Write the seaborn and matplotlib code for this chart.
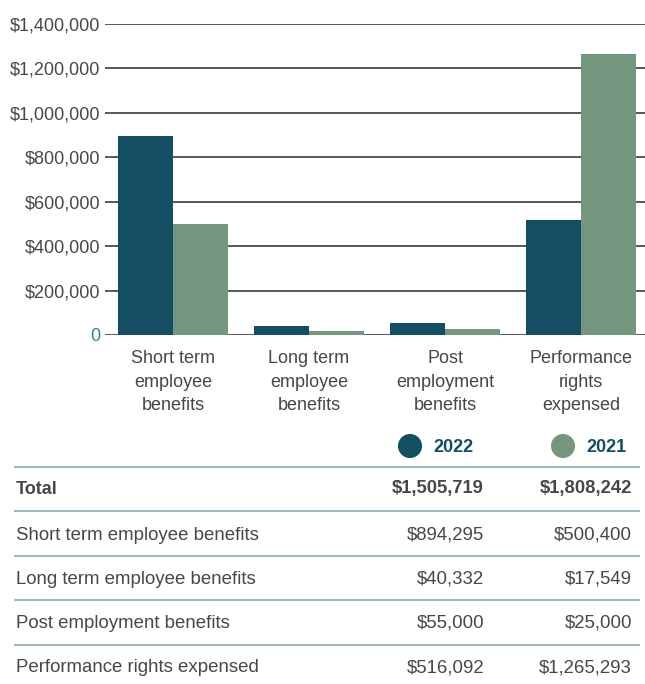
import matplotlib
matplotlib.use("Agg")
import matplotlib.pyplot as plt
import pandas as pd
import seaborn as sns
from matplotlib.ticker import FuncFormatter

# Remuneration components, by year
categories = ["Short term\nemployee\nbenefits", "Long term\nemployee\nbenefits",
              "Post\nemployment\nbenefits", "Performance\nrights\nexpensed"]
row_labels = ["Short term employee benefits", "Long term employee benefits",
              "Post employment benefits", "Performance rights expensed"]
years = ["2022", "2021"]
values_2022 = [894295, 40332, 55000, 516092]
values_2021 = [500400, 17549, 25000, 1265293]
y_ticks = [0, 200000, 400000, 600000, 800000, 1000000, 1200000, 1400000]

DARK = "#154e62"
GREEN = "#76977f"
TEXT = "#474747"
RULE = "#a3b7c1"

sns.set_theme(style="white")
plt.rcParams["font.family"] = ["Liberation Sans", "DejaVu Sans"]

df = pd.DataFrame({
    "category": categories * 2,
    "year": [years[0]] * 4 + [years[1]] * 4,
    "value": values_2022 + values_2021,
})

W, H = 645, 684
fig = plt.figure(figsize=(W / 100, H / 100), dpi=100)
fig.patch.set_facecolor("white")

# Bar chart area
left, right, top, bottom = 105, 645, 24, 335
ax = fig.add_axes([left / W, 1 - bottom / H, (right - left) / W, (bottom - top) / H])
sns.barplot(data=df, x="category", y="value", hue="year", order=categories,
            hue_order=years, palette=[DARK, GREEN], width=0.81, gap=0,
            saturation=1, legend=False, ax=ax, zorder=3, linewidth=0,
            edgecolor="none")
ax.set_xlim(-0.5, 3.47)
ax.set_ylim(0, 1400000)
ax.set_yticks(y_ticks)
ax.yaxis.set_major_formatter(FuncFormatter(lambda v, _: "0" if v == 0 else f"${v:,.0f}"))
ax.grid(axis="y", color="#2b2b2b", linewidth=1.1, zorder=0)
ax.grid(axis="x", visible=False)
for s in ax.spines.values():
    s.set_visible(False)
ax.tick_params(axis="both", length=0)
ax.tick_params(axis="y", pad=3.5, labelsize=13, labelcolor=TEXT)
ax.tick_params(axis="x", pad=11, labelsize=13, labelcolor=TEXT)
for lbl in ax.get_xticklabels():
    lbl.set_linespacing(1.48)
ax.get_yticklabels()[0].set_color("#3f7d9a")
ax.set_xlabel("")
ax.set_ylabel("")

# Legend and summary table beneath the chart
tab = fig.add_axes([0, 0, 1, 1], zorder=5)
tab.set_xlim(0, W)
tab.set_ylim(H, 0)
tab.axis("off")
tab.patch.set_alpha(0)

tab.scatter([410, 563], [446, 446], s=300, c=[DARK, GREEN], linewidths=0)
legend_font = ["Liberation Sans Narrow", "Liberation Sans", "DejaVu Sans"]
for x, yr in zip([433, 586], years):
    tab.text(x, 447, yr, ha="left", va="center", fontsize=13, fontweight="bold",
             color=DARK, family=legend_font)

rule_y = [467, 511, 556, 600, 645]
for y in rule_y:
    tab.plot([14, 640], [y, y], color=RULE, linewidth=1.5, solid_capstyle="butt")

total_2022 = sum(values_2022)
total_2021 = sum(values_2021)
row_y = [489, 535, 579, 623, 668]
tab.text(16, row_y[0], "Total", ha="left", va="center", fontsize=13,
         fontweight="bold", color=TEXT)
tab.text(484, row_y[0], f"${total_2022:,}", ha="right", va="center", fontsize=13.2,
         fontweight="bold", color=TEXT)
tab.text(632, row_y[0], f"${total_2021:,}", ha="right", va="center", fontsize=13.2,
         fontweight="bold", color=TEXT)
for y, name, a, b in zip(row_y[1:], row_labels, values_2022, values_2021):
    tab.text(16, y, name, ha="left", va="center", fontsize=13.4, color=TEXT)
    tab.text(484, y, f"${a:,}", ha="right", va="center", fontsize=13.4, color=TEXT)
    tab.text(632, y, f"${b:,}", ha="right", va="center", fontsize=13.4, color=TEXT)

fig.savefig("out.png", dpi=100, facecolor="white")
